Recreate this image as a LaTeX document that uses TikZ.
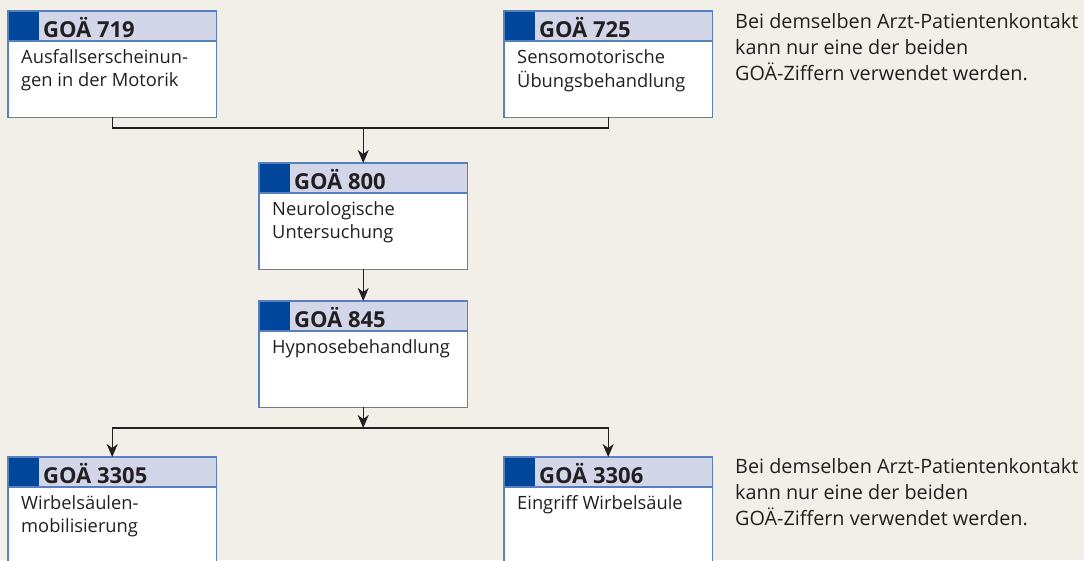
\documentclass[tikz,border=0pt]{standalone}
\usepackage{fontspec}
\setmainfont{Open Sans}
\usetikzlibrary{arrows.meta}
\definecolor{bg}{RGB}{242, 239, 233}
\definecolor{kopf}{RGB}{211, 214, 233}
\definecolor{goablau}{RGB}{0, 70, 155}
\definecolor{rand}{RGB}{88, 128, 190}
\definecolor{linie}{RGB}{35, 31, 32}
\tikzset{
  box/.style={rectangle, fill=white, minimum width=208pt, minimum height=106pt, inner sep=0pt, anchor=north west},
  nummer/.style={anchor=base west, inner sep=0pt, text=linie, font=\bfseries\fontsize{22}{22}\selectfont},
  inhalt/.style={anchor=north west, inner sep=0pt, align=left, text=linie, font=\fontsize{18.3}{23}\selectfont},
  hinweis/.style={anchor=north west, inner sep=0pt, align=left, text=linie, font=\fontsize{19.8}{26}\selectfont},
  pfeil/.style={linie, line width=1.3pt, -{Stealth[length=13pt, width=11pt, inset=4pt]}},
  verbinder/.style={linie, line width=1.3pt}
}
% strut height is 0.7\baselineskip: 16.1pt for the box texts, 18.2pt for the notes
\newcommand{\goabox}[4]{%
  \node[box] (#1) at (#2) {};
  \fill[kopf] (#1.north west) rectangle ([yshift=-30pt]#1.north east);
  \fill[goablau] (#1.north west) rectangle ([xshift=31pt, yshift=-30pt]#1.north west);
  \draw[rand, line width=1.2pt] ([yshift=-30pt]#1.north west) -- ([yshift=-30pt]#1.north east);
  \draw[rand, line width=1.5pt] (#1.north west) rectangle (#1.south east);
  \node[nummer] (#1-nr) at ([xshift=35pt, yshift=-26pt]#1.north west) {GOÄ #3};
  \node[inhalt] (#1-txt) at ([xshift=13pt, yshift=-35.9pt]#1.north west) {\strut #4};
}

\begin{document}
\begin{tikzpicture}[x=1pt, y=-1pt]
  \clip (0,0) rectangle (1084,560);
  \fill[bg] (0,0) rectangle (1084,560);

  \goabox{g719}{8,11}{719}{Ausfallserscheinun-\\gen in der Motorik}
  \goabox{g725}{504,11}{725}{Sensomotorische\\Übungsbehandlung}
  \goabox{g800}{259,163}{800}{Neurologische\\Untersuchung}
  \goabox{g845}{259,301}{845}{Hypnosebehandlung}
  \goabox{g3305}{8,457}{3305}{Wirbelsäulen-\\mobilisierung}
  \goabox{g3306}{504,457}{3306}{Eingriff Wirbelsäule}

  \node[hinweis] (hinweis-oben) at (735,9.8) {\strut Bei demselben Arzt-Patientenkontakt\\kann nur eine der beiden\\GOÄ-Ziffern verwendet werden.};
  \node[hinweis] (hinweis-unten) at (735,454.8) {\strut Bei demselben Arzt-Patientenkontakt\\kann nur eine der beiden\\GOÄ-Ziffern verwendet werden.};

  \coordinate (oben) at (g800.north |- 0,128);
  \coordinate (unten) at (g845.south |- 0,428);
  \draw[verbinder] (g719.south) |- (oben) -| (g725.south);
  \draw[pfeil] (oben) -- (g800.north);
  \draw[pfeil] (g800.south) -- (g845.north);
  \draw[pfeil] (g845.south) -- (unten);
  \draw[pfeil] (unten) -| (g3305.north);
  \draw[pfeil] (unten) -| (g3306.north);
\end{tikzpicture}
\end{document}
